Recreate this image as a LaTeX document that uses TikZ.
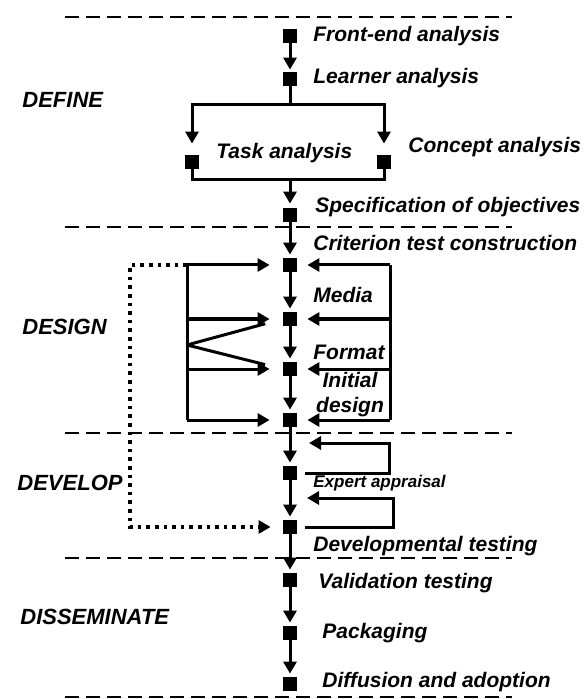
\documentclass[tikz,border=0pt]{standalone}
\usepackage{fontspec}
\setmainfont{Liberation Sans}
\usetikzlibrary{arrows.meta}

\begin{document}
\begin{tikzpicture}[x=0.5pt, y=-0.5pt,
  sq/.style={rectangle, fill=black, minimum width=7pt, minimum height=7pt, inner sep=0pt},
  line/.style={line width=1.5pt},
  arrow/.style={line width=1.5pt, -{Triangle[length=6pt, width=6.5pt]}},
  dots/.style={line width=1.6pt, dash pattern=on 1.8pt off 2.5pt, -{Triangle[length=6pt, width=6.5pt]}},
  sep/.style={line width=1pt, dash pattern=on 7pt off 3.5pt},
  lbl/.style={anchor=west, inner sep=0pt, font=\fontsize{10.5}{12.5}\selectfont\bfseries\itshape},
  phase/.style={anchor=west, inner sep=0pt, font=\fontsize{11}{13}\selectfont\bfseries\itshape}
]
\useasboundingbox (0,0) rectangle (584,699);

% Stage separators
\foreach \y in {17, 227, 433, 558, 697}
  \draw[sep] (65,\y) -- (512,\y);

% Stage names
\node[phase] (define)   at (22,100) {DEFINE};
\node[phase] (design)   at (22,327) {DESIGN};
\node[phase] (develop)  at (17,483) {DEVELOP};
\node[phase] (dissem)   at (20,617) {DISSEMINATE};

% Steps on the main line
\node[sq] (fe) at (290,36)  {};
\node[sq] (la) at (290,79)  {};
\node[sq] (ta) at (192,162) {};
\node[sq] (ca) at (384,162) {};
\node[sq] (so) at (290,215) {};
\node[sq] (ct) at (290,265) {};
\node[sq] (me) at (290,319) {};
\node[sq] (fo) at (290,369) {};
\node[sq] (id) at (290,420) {};
\node[sq] (ea) at (290,473) {};
\node[sq] (dt) at (290,527) {};
\node[sq] (vt) at (290,580) {};
\node[sq] (pk) at (290,633) {};
\node[sq] (da) at (290,684) {};

% Step labels
\node[lbl] (fe_txt) at (313,36)  {Front-end analysis};
\node[lbl] (la_txt) at (313,78)  {Learner analysis};
\node[lbl] (ta_txt) at (216,153) {Task analysis};
\node[lbl] (ca_txt) at (408,147) {Concept analysis};
\node[lbl] (so_txt) at (315,207) {Specification of objectives};
\node[lbl] (ct_txt) at (313,243) {Criterion test construction};
\node[lbl] (me_txt) at (313,295) {Media};
\node[lbl] (fo_txt) at (313,352) {Format};
\node[lbl, anchor=center, align=center] (id_txt) at (350,395) {Initial\\design};
\node[lbl, font=\fontsize{8.5}{10}\selectfont\bfseries\itshape] (ea_txt) at (313,483) {Expert appraisal};
\node[lbl] (dt_txt) at (313,546) {Developmental testing};
\node[lbl] (vt_txt) at (318,583) {Validation testing};
\node[lbl] (pk_txt) at (322,633) {Packaging};
\node[lbl] (da_txt) at (322,682) {Diffusion and adoption};

% Define: split into task and concept analysis
\coordinate (split) at (290,105);
\coordinate (join)  at (290,180);
\draw[arrow, shorten >=1pt] (fe) -- (la);
\draw[line] (la) -- (split);
\draw[arrow, shorten >=5.5pt] (split) -| (ta);
\draw[arrow, shorten >=5.5pt] (split) -| (ca);
\draw[line] (ta) |- (join);
\draw[line] (ca) |- (join);
\draw[arrow, shorten >=2pt] (join) -- (so);

% Design: main line
\draw[arrow, shorten >=1.5pt] (so) -- (ct);
\draw[arrow, shorten >=1.5pt] (ct) -- (me);
\draw[arrow, shorten >=1.5pt] (me) -- (fo);
\draw[arrow, shorten >=1.5pt] (fo) -- (id);

% Design: left bracket
\coordinate (lt) at (187,265);
\coordinate (lm) at (187,319);
\coordinate (lv) at (187,345);
\coordinate (lf) at (187,369);
\coordinate (lb) at (187,420);
\draw[line] (lt) -- (lb);
\draw[arrow, shorten >=6.5pt] (lt) -- (ct);
\draw[arrow, shorten >=6.5pt] (lm) -- (me);
\draw[arrow, shorten >=6.5pt] (lf) -- (fo);
\draw[arrow, shorten >=6.5pt] (lb) -- (id);
\draw[line, shorten >=9pt] (lv) -- (me.west);
\draw[line, shorten >=9pt] (lv) -- (fo.west);

% Design: right bracket
\coordinate (rt) at (390,265);
\coordinate (rm) at (390,319);
\coordinate (rf) at (390,369);
\coordinate (rb) at (390,420);
\draw[line] (rt) -- (rb);
\draw[arrow, shorten >=5pt] (rt) -- (ct);
\draw[arrow, shorten >=5pt] (rm) -- (me);
\draw[arrow, shorten >=5pt] (rf) -- (fo);
\draw[arrow, shorten >=5pt] (rb) -- (id);

% Develop
\coordinate (m1) at (290,443);
\coordinate (l1) at (389,443);
\coordinate (m2) at (290,498);
\coordinate (l2) at (393,498);
\draw[arrow, shorten >=1.5pt] (id) -- (ea);
\draw[arrow, shorten >=1.5pt] (ea) -- (dt);
\draw[arrow, shorten <=4pt, shorten >=9.5pt] (ea.east) -| (l1) -- (m1);
\draw[arrow, shorten <=4pt, shorten >=8.5pt] (dt.east) -| (l2) -- (m2);

% Developmental testing loops back to design
\coordinate (dtop) at (130,265);
\draw[dots, shorten >=6pt] (lt) -- (dtop) |- (dt);

% Disseminate
\draw[arrow, shorten >=1.5pt] (dt) -- (vt);
\draw[arrow, shorten >=1.5pt] (vt) -- (pk);
\draw[arrow, shorten >=1.5pt] (pk) -- (da);

\end{tikzpicture}
\end{document}
